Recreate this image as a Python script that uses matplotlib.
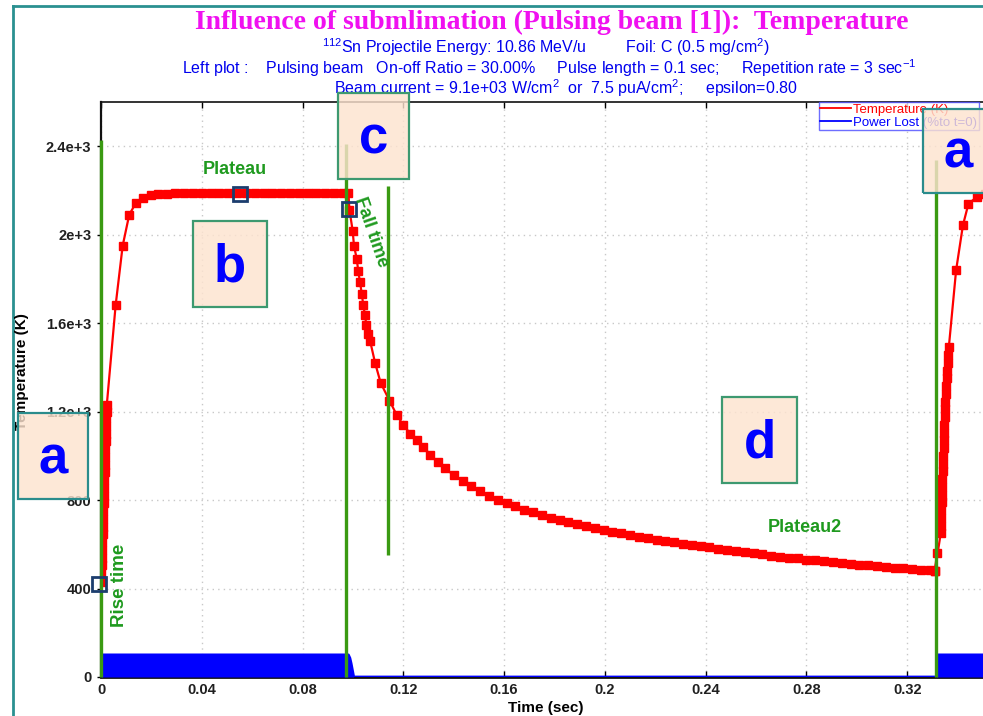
import matplotlib
matplotlib.use("Agg")
import matplotlib.pyplot as plt
from matplotlib.patches import Rectangle
from matplotlib.lines import Line2D

plt.rcParams['font.family'] = ['Liberation Sans', 'DejaVu Sans']
plt.rcParams['mathtext.fontset'] = 'custom'
plt.rcParams['mathtext.rm'] = 'Liberation Sans'

# ---- temperature (K) vs time (sec), one pulse period plus the next rise ----
rise1_t = [0.0000, 0.0001, 0.0002, 0.0003, 0.0004, 0.0005, 0.0006, 0.0007, 0.0008,
           0.0009, 0.0010, 0.0011, 0.0012, 0.0013, 0.0014, 0.0015, 0.0016, 0.0017,
           0.0018, 0.0019, 0.0020, 0.0021, 0.0022, 0.0023,
           0.0058, 0.0086, 0.0112, 0.0139, 0.0168, 0.0197, 0.0228, 0.0260]
rise1_T = [430, 470, 505, 540, 575, 610, 645, 680, 715,
           750, 785, 820, 855, 890, 925, 960, 995, 1030,
           1065, 1100, 1135, 1170, 1200, 1230,
           1680, 1950, 2090, 2145, 2167, 2178, 2183, 2186]

plateau_t = [0.0295, 0.0330, 0.0365, 0.0400, 0.0435, 0.0470, 0.0505, 0.0540, 0.0575,
             0.0610, 0.0645, 0.0680, 0.0715, 0.0750, 0.0785, 0.0820, 0.0855, 0.0890,
             0.0925, 0.0960, 0.0982]
plateau_T = [2187, 2187, 2187, 2188, 2188, 2188, 2188, 2188, 2188,
             2188, 2188, 2188, 2188, 2188, 2188, 2188, 2188, 2188,
             2188, 2188, 2188]

fall_t = [0.0986, 0.0999, 0.1004, 0.1015, 0.1021, 0.1028, 0.1035, 0.1041, 0.1048,
          0.1053, 0.1061, 0.1068, 0.1088, 0.1110, 0.1145, 0.1174, 0.1200, 0.1227,
          0.1253, 0.1280, 0.1306, 0.1336, 0.1366]
fall_T = [2113, 2017, 1951, 1891, 1836, 1786, 1734, 1680, 1636,
          1590, 1553, 1520, 1420, 1330, 1250, 1184, 1139, 1101,
          1071, 1041, 1005, 973, 943]

tail_t = [0.1400, 0.1435, 0.1470, 0.1505, 0.1540, 0.1575, 0.1610, 0.1645, 0.1680,
          0.1715, 0.1750, 0.1785, 0.1820, 0.1855, 0.1890, 0.1925, 0.1960, 0.1995,
          0.2030, 0.2065, 0.2100, 0.2135, 0.2170, 0.2205, 0.2240, 0.2275, 0.2310,
          0.2345, 0.2380, 0.2415, 0.2450, 0.2485, 0.2520, 0.2555, 0.2590, 0.2625,
          0.2660, 0.2695, 0.2730, 0.2765, 0.2800, 0.2835, 0.2870, 0.2905, 0.2940,
          0.2975, 0.3010, 0.3045, 0.3080, 0.3115, 0.3150, 0.3185, 0.3220, 0.3255,
          0.3290, 0.3310]
tail_T = [913, 886, 862, 840, 820, 802, 786, 771, 757,
          744, 732, 721, 711, 700, 691, 682, 674, 665,
          657, 649, 642, 635, 628, 621, 615, 609, 603,
          597, 592, 586, 580, 574, 569, 564, 559, 554,
          549, 544, 540, 536, 531, 527, 523, 519, 516,
          512, 508, 505, 501, 498, 495, 492, 489, 486,
          483, 481]

rise2_t = [0.3333, 0.3334, 0.3335, 0.3336, 0.3337, 0.3338, 0.3339, 0.3340, 0.3341,
           0.3342, 0.3343, 0.3344, 0.3345, 0.3346, 0.3347, 0.3348, 0.3349, 0.3350,
           0.3352, 0.3354, 0.3356, 0.3358, 0.3360, 0.3362, 0.3365,
           0.3394, 0.3421, 0.3443, 0.3476, 0.3510, 0.3560, 0.3610]
rise2_T = [650, 685, 720, 755, 790, 825, 860, 895, 930,
           965, 1000, 1035, 1070, 1105, 1140, 1175, 1210, 1245,
           1280, 1315, 1350, 1385, 1420, 1455, 1490,
           1839, 2042, 2140, 2170, 2185, 2188, 2188]

# ---- power lost (% to t=0) ----
power_t = [0.0, 0.0982, 0.0988, 0.0993, 0.0998, 0.1003, 0.3316, 0.3318, 0.3610]
power = [100, 100, 85, 60, 30, 0, 0, 100, 100]

# axis ticks
xticks = [0, 0.04, 0.08, 0.12, 0.16, 0.2, 0.24, 0.28, 0.32]
xtick_labels = ['0', '0.04', '0.08', '0.12', '0.16', '0.2', '0.24', '0.28', '0.32']
yticks = [0, 400, 800, 1200, 1600, 2000, 2400]
ytick_labels = ['0', '400', '800', '1.2e+3', '1.6e+3', '2e+3', '2.4e+3']

# marked points and phase lines
mark_t = [-0.0008, 0.0552, 0.0985]
mark_T = [421, 2182, 2115]
phase_t = [0.0, 0.0973, 0.1138, 0.3315]
phase_lo = [0, 0, 551, 0]
phase_hi = [2427, 2409, 2219, 2336]

W, H = 983, 716
fig = plt.figure(figsize=(W / 100, H / 100), dpi=100)
fig.patch.set_facecolor('white')


def fx(px):
    return px / W


def fy(py):
    return 1 - py / H


ax = fig.add_axes([fx(101), fy(677), 907 / W, 575 / H])
ax.set_xlim(0, 0.36)
ax.set_ylim(0, 2600)

ax.grid(True, color='#c8c8c8', linestyle=(0, (1, 3)), linewidth=1)
ax.set_axisbelow(True)

red = '#ff0000'
t_all = rise1_t + plateau_t + fall_t + tail_t
T_all = rise1_T + plateau_T + fall_T + tail_T
ax.plot(t_all + [0.3318], T_all + [560], color=red, lw=1.6, marker='s',
        ms=5.2, mec=red, zorder=4)
ax.plot([0.3310] + rise2_t, [481] + rise2_T, color=red, lw=1.6, marker='s',
        ms=5.2, mec=red, zorder=4)

ax.fill_between(power_t, power, 0, color='#0000ff', lw=0, zorder=3)
ax.plot(power_t, power, color='#0000ff', lw=2, zorder=3)

ax.vlines(phase_t, phase_lo, phase_hi, color='#3a9a12', lw=2.4, zorder=5, clip_on=False)
ax.plot(mark_t, mark_T, ls='none', marker='s', ms=10.5, mfc='none', mec='#1c3d6e',
        mew=2, zorder=6, clip_on=False)

ax.set_xticks(xticks, xtick_labels)
ax.set_yticks(yticks, ytick_labels)
ax.tick_params(axis='both', labelsize=10.5, length=3, width=1, pad=4)
ax.tick_params(axis='x', top=True, direction='in', length=4)
for lab in ax.get_xticklabels() + ax.get_yticklabels():
    lab.set_fontweight('bold')
    lab.set_color('#202020')

for s in ['left', 'bottom', 'top']:
    ax.spines[s].set_color('#111111')
ax.spines['left'].set_linewidth(1.6)
ax.spines['bottom'].set_linewidth(2.0)
ax.spines['top'].set_linewidth(1.2)
ax.spines['right'].set_visible(False)

fig.text(fx(546), fy(708), 'Time (sec)', fontsize=11, fontweight='bold',
         ha='center', va='center')
fig.text(fx(22), fy(372), 'Temperature (K)', fontsize=11, fontweight='bold',
         rotation=90, ha='center', va='center')

handles = [Line2D([], [], color=red, lw=1.3), Line2D([], [], color='#0000ff', lw=1.3)]
leg = ax.legend(handles, ['Temperature (K)', 'Power Lost (%to t=0)'],
                loc='upper left', bbox_to_anchor=(fx(819), fy(102)),
                bbox_transform=fig.transFigure, fontsize=9.5, frameon=True,
                fancybox=False, borderpad=0.1, labelspacing=0.1,
                handlelength=2.3, handletextpad=0.2, borderaxespad=0,
                labelcolor='linecolor')
leg.get_frame().set_edgecolor('#4a4aff')
leg.get_frame().set_linewidth(1)

# titles
fig.text(fx(552), fy(22), 'Influence of submlimation (Pulsing beam [1]):  Temperature',
         family='Liberation Serif', fontweight='bold', fontsize=20, color='#f010f0',
         ha='center', va='center')
sub_kw = dict(fontsize=11.5, color='#0000ee', ha='center', va='center')
fig.text(fx(546), fy(47), r'$\mathregular{^{112}}$Sn Projectile Energy: 10.86 MeV/u'
         r'         Foil: C (0.5 mg/cm$\mathregular{^{2}}$)', **sub_kw)
fig.text(fx(549), fy(68), r'Left plot :    Pulsing beam   On-off Ratio = 30.00%'
         r'     Pulse length = 0.1 sec;     Repetition rate = 3 sec$\mathregular{^{-1}}$',
         **sub_kw)
fig.text(fx(566), fy(88), r'Beam current = 9.1e+03 W/cm$\mathregular{^{2}}$  or  '
         r'7.5 puA/cm$\mathregular{^{2}}$;     epsilon=0.80', **sub_kw)

# phase labels
green = '#1f9a1f'
fig.text(fx(235), fy(169), 'Plateau', fontsize=13, fontweight='bold', color=green,
         ha='center', va='center')
fig.text(fx(805), fy(528), 'Plateau2', fontsize=13, fontweight='bold', color=green,
         ha='center', va='center')
fig.text(fx(119), fy(585), 'Rise time', fontsize=13.5, fontweight='bold', color=green,
         rotation=90, ha='center', va='center')
fig.text(fx(371), fy(232), 'Fall time', fontsize=13, fontweight='bold', color=green,
         rotation=-71, rotation_mode='anchor', ha='center', va='center')

# lettered boxes
boxes = [('a', 18, 413, 88, 499, '#2a8c8c'),
         ('b', 193, 221, 267, 307, '#3d9970'),
         ('c', 338, 93, 409, 179, '#3d9970'),
         ('d', 722, 397, 797, 483, '#3d9970'),
         ('a', 923, 109, 993, 193, '#2a8c8c')]
for letter, x0, y0, x1, y1, ec in boxes:
    fig.add_artist(Rectangle((fx(x0), fy(y1)), fx(x1 - x0), (y1 - y0) / H,
                             transform=fig.transFigure, facecolor='#fde3cf',
                             alpha=0.82, edgecolor='none', zorder=10))
    fig.add_artist(Rectangle((fx(x0), fy(y1)), fx(x1 - x0), (y1 - y0) / H,
                             transform=fig.transFigure, facecolor='none',
                             edgecolor=ec, lw=1.6, zorder=11))
    fig.text(fx((x0 + x1) / 2), fy((y0 + y1) / 2 + 3), letter, fontsize=38,
             fontweight='bold', color='#0000ff', ha='center', va='center', zorder=12)

# outer frame
fig.add_artist(Line2D([fx(13), fx(13)], [fy(6), 0], transform=fig.transFigure,
                      color='#2a9090', lw=2))
fig.add_artist(Line2D([fx(13), 1], [fy(6), fy(6)], transform=fig.transFigure,
                      color='#2a9090', lw=2))

fig.savefig('out.png', dpi=100)
